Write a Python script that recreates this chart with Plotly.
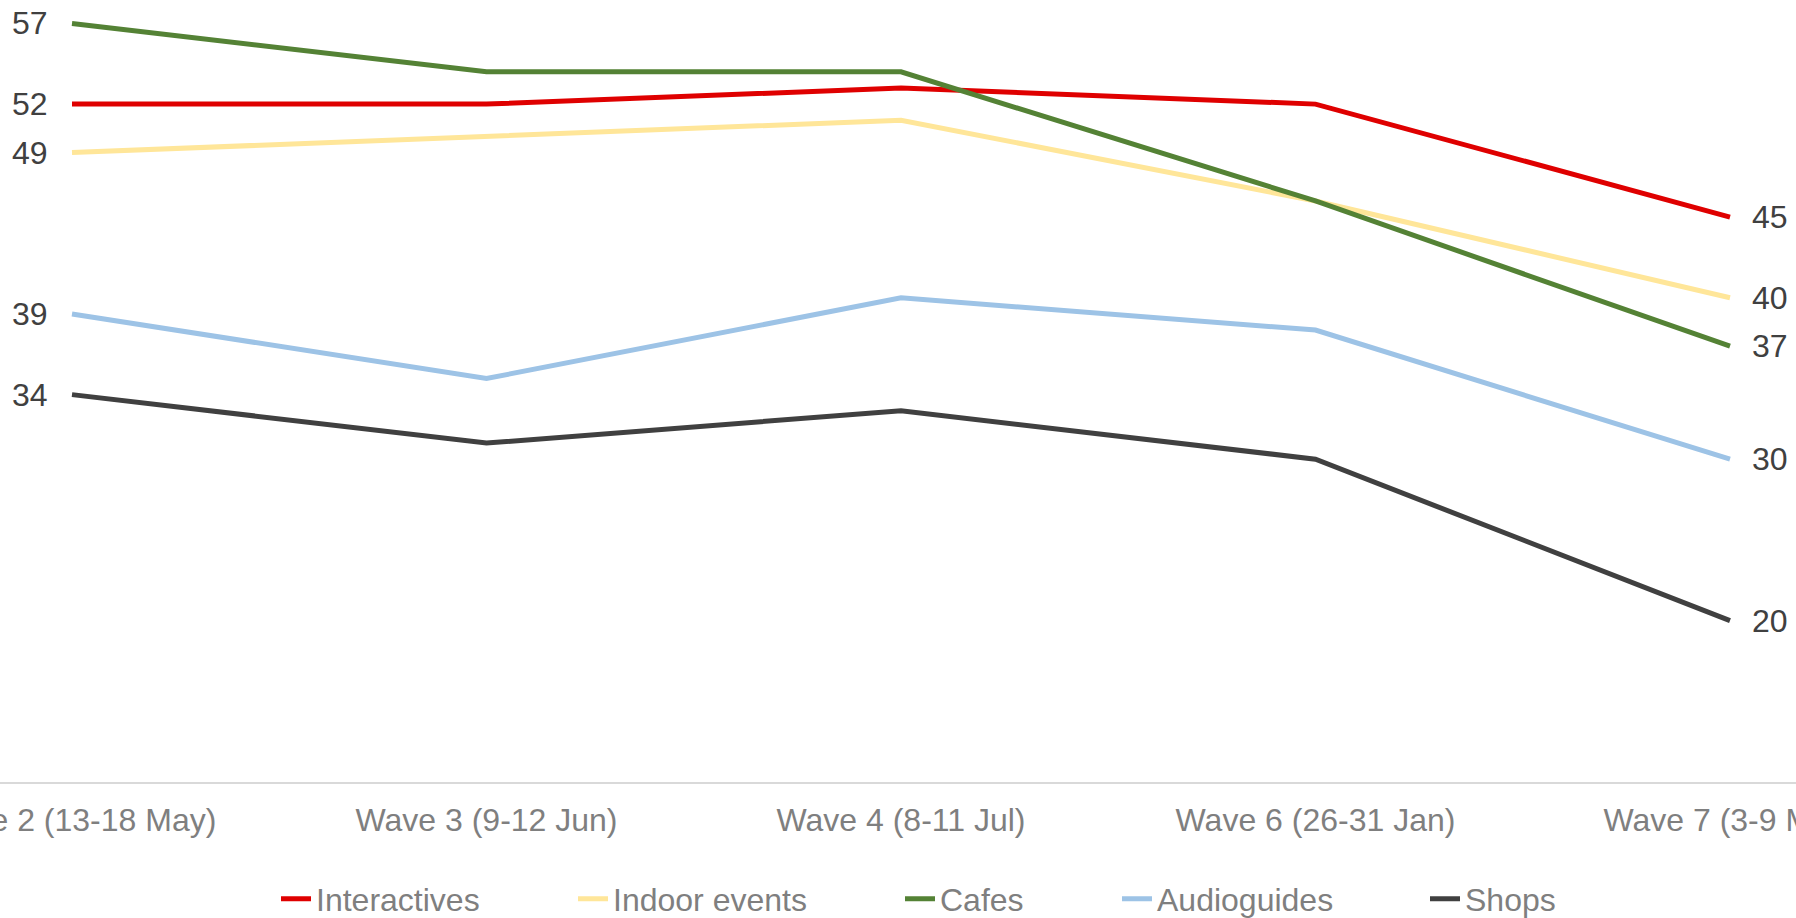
import plotly.graph_objects as go

waves = ["Wave 2 (13-18 May)", "Wave 3 (9-12 Jun)", "Wave 4 (8-11 Jul)",
         "Wave 6 (26-31 Jan)", "Wave 7 (3-9 May)"]
interactives = [52, 52, 53, 52, 45]
indoor_events = [49, 50, 51, 46, 40]
cafes = [57, 54, 54, 46, 37]
audioguides = [39, 35, 40, 38, 30]
shops = [34, 31, 33, 30, 20]

series = [
    ("Interactives", interactives, "#DF0000"),
    ("Indoor events", indoor_events, "#FFE699"),
    ("Cafes", cafes, "#548235"),
    ("Audioguides", audioguides, "#9DC3E6"),
    ("Shops", shops, "#404040"),
]

FONT = "Liberation Sans, Arial, sans-serif"
W, H = 1796, 918
PLOT_H = 782
legend_text_x = [316, 613, 940, 1157, 1465]

fig = go.Figure()
xs = list(range(len(waves)))
annotations = []
layout_legends = {}
for i, (name, vals, color) in enumerate(series):
    lname = "legend" if i == 0 else f"legend{i+1}"
    fig.add_trace(go.Scatter(
        x=xs, y=vals, mode="lines", name=name,
        line=dict(color=color, width=5),
        legend=lname, hoverinfo="skip",
    ))
    layout_legends[lname] = dict(
        x=(legend_text_x[i] - 40) / W, xanchor="left",
        y=(PLOT_H - 899) / PLOT_H, yanchor="middle", orientation="h",
        font=dict(family=FONT, size=32, color="#7F7F7F"),
        bgcolor="rgba(0,0,0,0)", borderwidth=0,
    )
    annotations.append(dict(x=xs[0], y=vals[0], text=str(vals[0]), showarrow=False,
                            xanchor="right", yanchor="middle", xshift=-22,
                            font=dict(family=FONT, size=32, color="#404040")))
    annotations.append(dict(x=xs[-1], y=vals[-1], text=str(vals[-1]), showarrow=False,
                            xanchor="left", yanchor="middle", xshift=20,
                            font=dict(family=FONT, size=32, color="#404040")))

spacing = 414.5
first_x = 72
fig.update_layout(
    template="none",
    width=W, height=H,
    margin=dict(l=0, r=0, t=0, b=H - PLOT_H, pad=0, autoexpand=False),
    paper_bgcolor="white", plot_bgcolor="white",
    font=dict(family=FONT),
    showlegend=True,
    annotations=annotations,
    **layout_legends,
)
fig.update_xaxes(
    range=[-first_x / spacing, (W - first_x) / spacing],
    tickmode="array", tickvals=xs, ticktext=waves,
    showgrid=False, zeroline=False, automargin=False,
    showline=True, linecolor="#D9D9D9", linewidth=2,
    ticks="", ticklabelstandoff=9, ticklabeloverflow="allow",
    tickfont=dict(family=FONT, size=32, color="#7F7F7F"),
)
fig.update_yaxes(
    range=[10, 10 + PLOT_H / 16.14], automargin=False,
    showgrid=False, zeroline=False, showticklabels=False, showline=False,
)
fig.write_html("out.html",
               config={"displayModeBar": False},
               post_script="document.body.style.margin='0px';document.body.style.overflow='hidden';")
